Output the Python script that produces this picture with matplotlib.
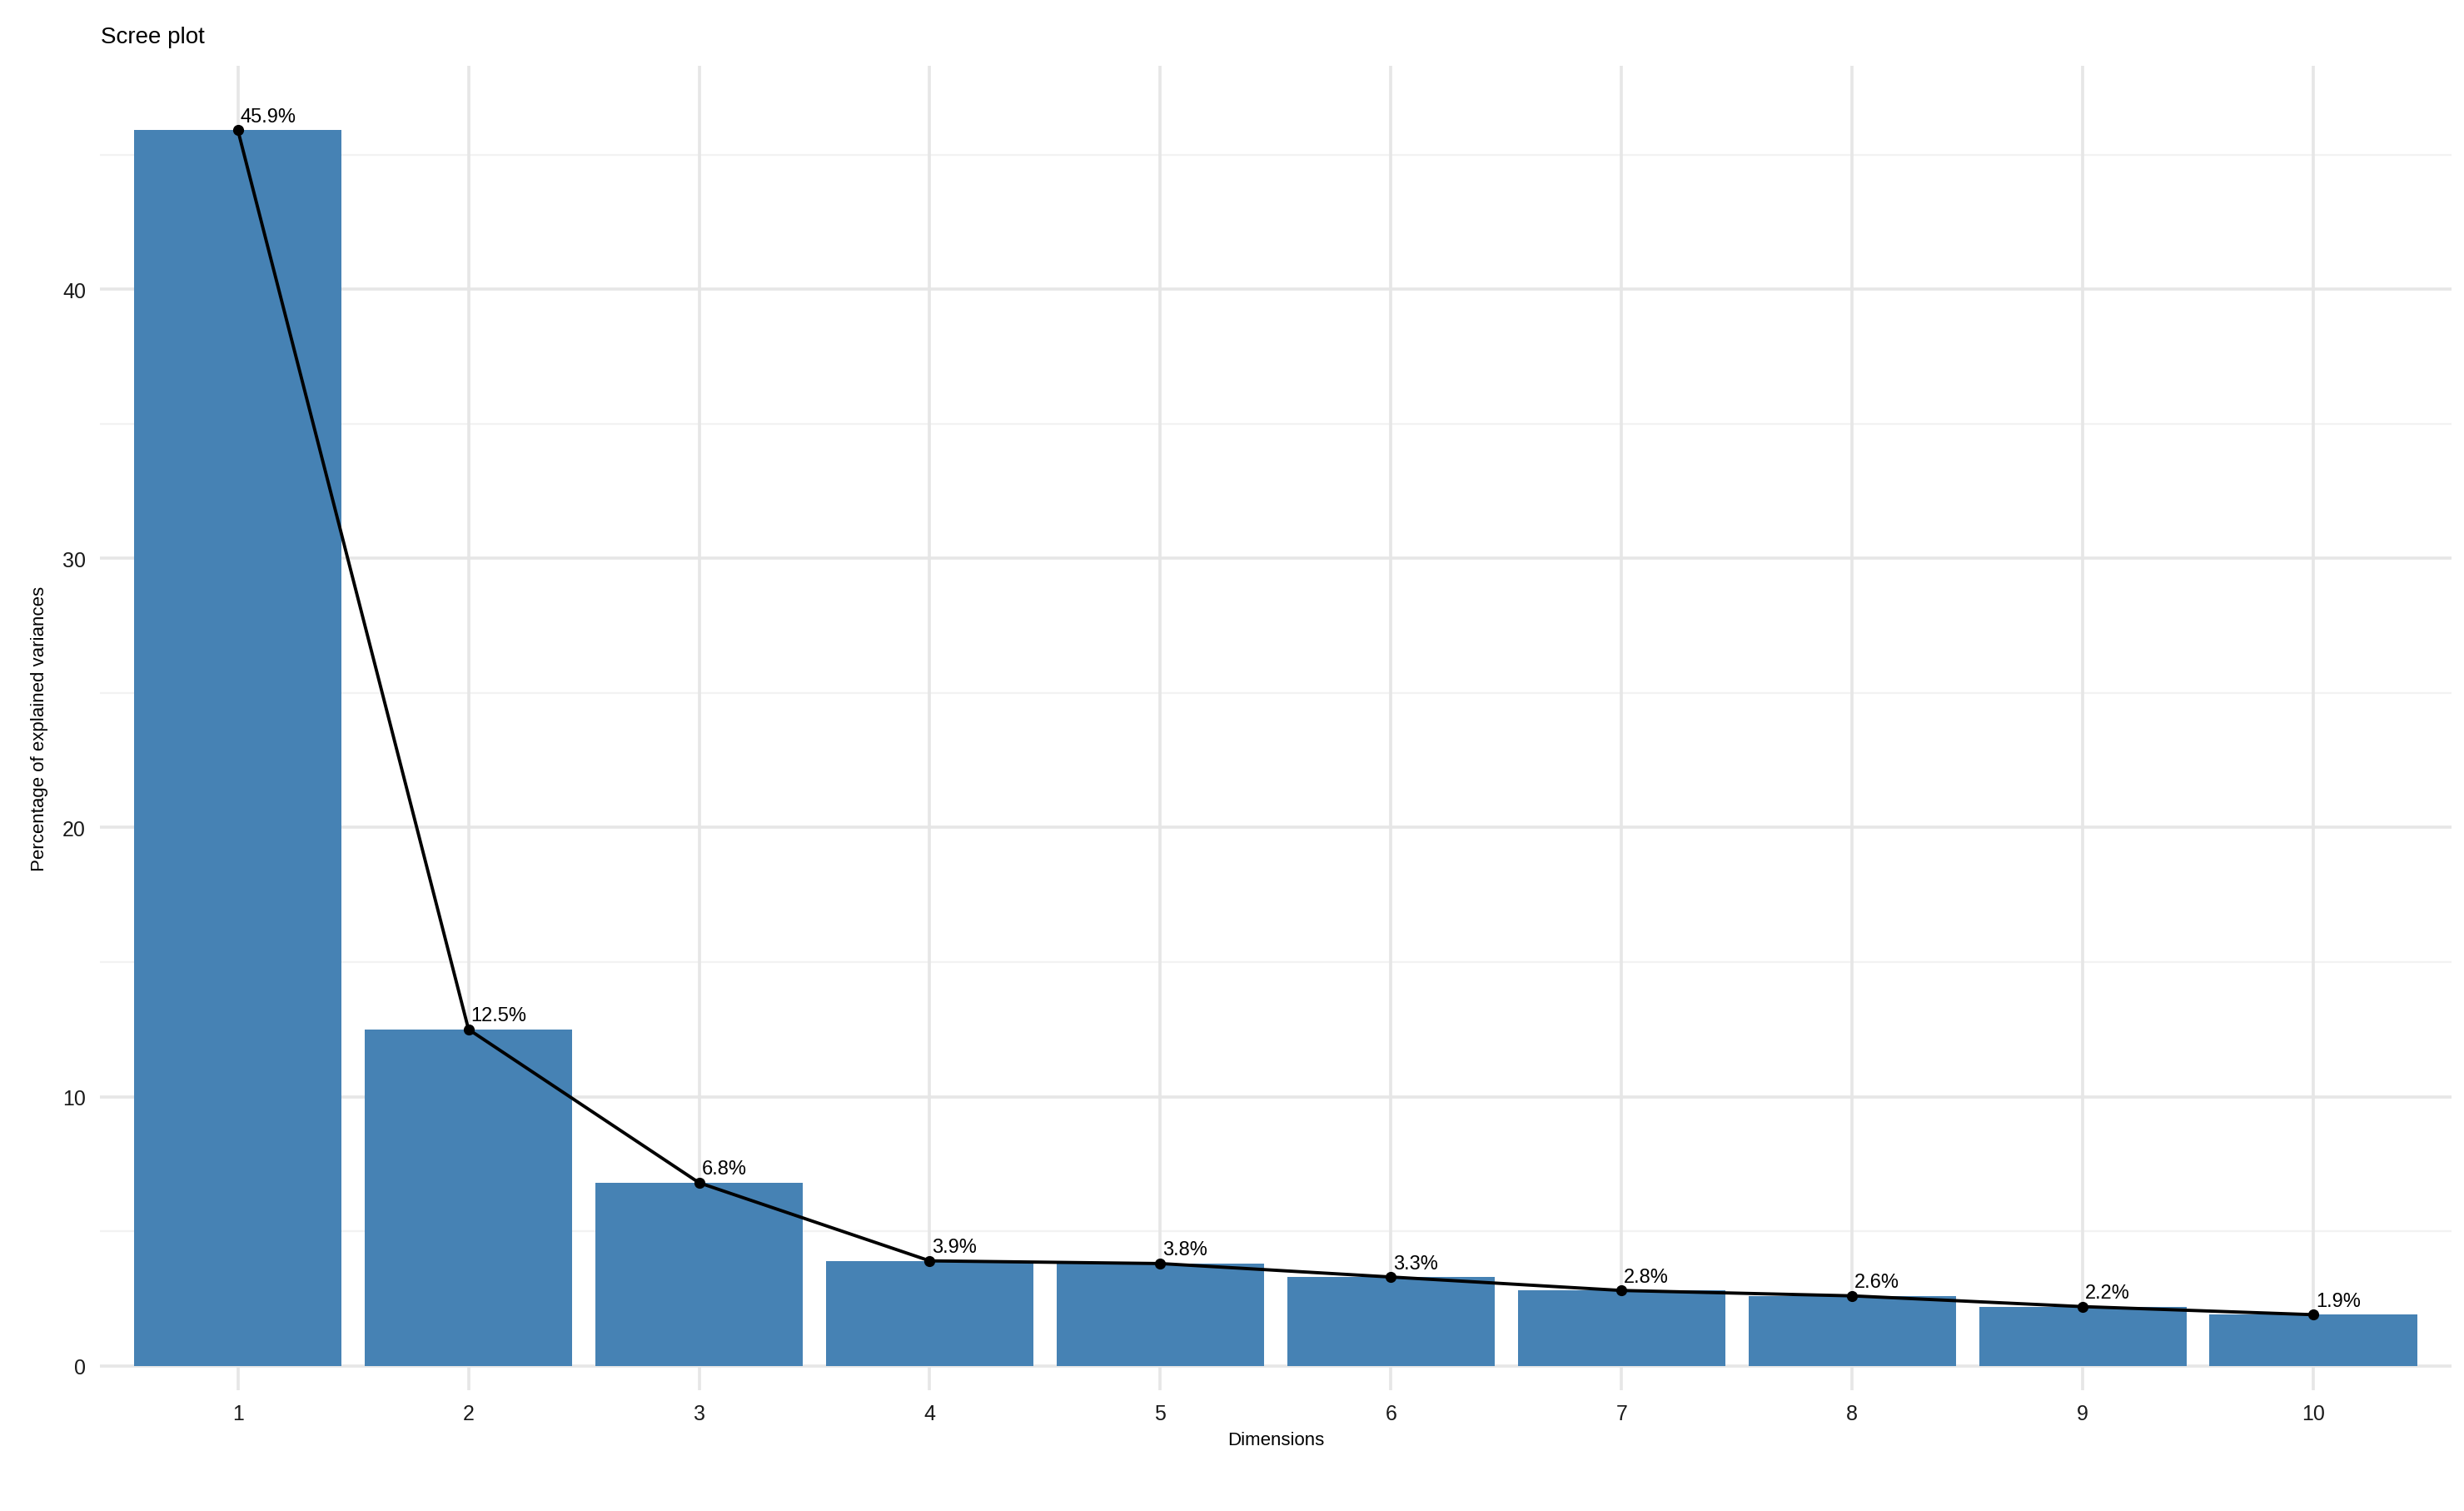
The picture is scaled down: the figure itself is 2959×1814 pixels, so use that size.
import matplotlib
matplotlib.use("Agg")
import matplotlib.pyplot as plt
import numpy as np

dims = [1, 2, 3, 4, 5, 6, 7, 8, 9, 10]
variances = [45.9, 12.5, 6.8, 3.9, 3.8, 3.3, 2.8, 2.6, 2.2, 1.9]
labels = ["45.9%", "12.5%", "6.8%", "3.9%", "3.8%", "3.3%", "2.8%", "2.6%", "2.2%", "1.9%"]

plt.rcParams['font.family'] = ['Liberation Sans', 'DejaVu Sans']
fig = plt.figure(figsize=(2959/200, 1815/200), dpi=200)
ax = fig.add_axes([0.0404, 0.080, 0.9546, 0.876])
ax.set_xlim(0.4, 10.6)
ax.set_ylim(-0.9, 48.3)
for y in [5, 15, 25, 35, 45]:
    ax.axhline(y, color='#f2f2f2', lw=0.8, zorder=0)
for y in [0, 10, 20, 30, 40]:
    ax.axhline(y, color='#e6e6e6', lw=1.3, zorder=0)
for x in dims:
    ax.axvline(x, color='#e6e6e6', lw=1.3, zorder=0)
ax.bar(dims, variances, width=0.9, color='steelblue', zorder=2)
ax.plot(dims, variances, color='black', lw=1.4, zorder=3)
ax.scatter(dims, variances, color='black', s=14, zorder=4)
for x, v, l in zip(dims, variances, labels):
    ax.annotate(l, (x, v), xytext=(1, 2), textcoords='offset points',
                ha='left', va='bottom', fontsize=8.5, zorder=5)
ax.set_xticks(dims)
ax.set_yticks([0, 10, 20, 30, 40])
for s in ax.spines.values():
    s.set_visible(False)
ax.tick_params(length=0, labelsize=9, colors='#1a1a1a', pad=6)
ax.set_xlabel("Dimensions", fontsize=8, labelpad=3)
ax.set_ylabel("Percentage of explained variances", fontsize=8, labelpad=6)
fig.text(0.041, 0.968, "Scree plot", fontsize=10, ha='left', va='bottom')
fig.savefig("out.png", dpi=200)
